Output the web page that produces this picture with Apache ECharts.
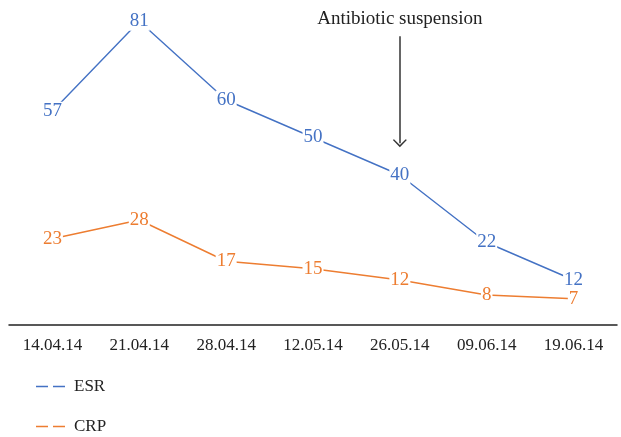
<!DOCTYPE html>
<html>
<head>
	<meta charset="utf-8">
	<title></title>
	<script type="text/javascript" src="https://cdn.jsdelivr.net/npm/echarts@6/dist/echarts.min.js"></script>
</head>
<body style="margin:0;background:#fff;">
<div id="main" style="width:621px;height:437px;"></div>
<script type="text/javascript">
var dates = ['14.04.14', '21.04.14', '28.04.14', '12.05.14', '26.05.14', '09.06.14', '19.06.14'];
var esr = [57, 81, 60, 50, 40, 22, 12];
var crp = [23, 28, 17, 15, 12, 8, 7];
var noteDate = '26.05.14';
var noteText = 'Antibiotic suspension';

var serif = '"Liberation Serif", "DejaVu Serif", serif';
// two short dashes for the legend
var dashIcon = 'path://M0,0 H12 V1.5 H0 Z M17,0 H29 V1.5 H17 Z';
var chevron = 'path://M5,0 L10,6 L9.2,6.7 L5,1.8 L0.8,6.7 L0,6 Z';

function labelStyle(color) {
	return {
		show: true,
		position: 'inside',
		color: color,
		fontFamily: serif,
		fontSize: 19,
		backgroundColor: '#fff',
		padding: [0, 1]
	};
}

function legendFor(name, color, top) {
	return {
		left: 31,
		top: top,
		itemWidth: 29,
		itemHeight: 2,
		textStyle: { fontFamily: serif, fontSize: 17, color: '#222', padding: [0, 0, 0, 4] },
		data: [{ name: name, icon: dashIcon, itemStyle: { color: color } }]
	};
}

var myChart = echarts.init(document.getElementById('main'));
var option = {
	animation: false,
	textStyle: { fontFamily: serif },
	grid: { left: 9, right: 4, top: 10, bottom: 112 },
	legend: [
		legendFor('ESR', '#4472C4', 373),
		legendFor('CRP', '#ED7D31', 413)
	],
	xAxis: {
		type: 'category',
		data: dates,
		boundaryGap: true,
		axisLine: { lineStyle: { color: '#222', width: 1.5 } },
		axisTick: { show: false },
		axisLabel: { color: '#222', fontFamily: serif, fontSize: 17, margin: 12 }
	},
	yAxis: {
		type: 'value',
		min: 0,
		max: 84,
		show: false,
		splitLine: { show: false }
	},
	series: [
		{
			name: 'ESR',
			type: 'line',
			data: esr,
			symbol: 'circle',
			symbolSize: 1,
			itemStyle: { color: '#4472C4' },
			lineStyle: { color: '#4472C4', width: 1.4 },
			label: labelStyle('#4472C4'),
			markLine: {
				silent: true,
				symbol: ['none', chevron],
				symbolSize: [14, 8],
				lineStyle: { color: '#333', width: 1.5, type: 'solid' },
				label: {
					show: true,
					position: 'start',
					distance: 8,
					formatter: noteText,
					color: '#222',
					fontFamily: serif,
					fontSize: 19
				},
				data: [[
					{ coord: [noteDate, 77] },
					{ coord: [noteDate, 48.5] }
				]]
			}
		},
		{
			name: 'CRP',
			type: 'line',
			data: crp,
			symbol: 'circle',
			symbolSize: 1,
			itemStyle: { color: '#ED7D31' },
			lineStyle: { color: '#ED7D31', width: 1.4 },
			label: labelStyle('#ED7D31')
		}
	]
};
myChart.setOption(option);
</script>
</body>
</html>
